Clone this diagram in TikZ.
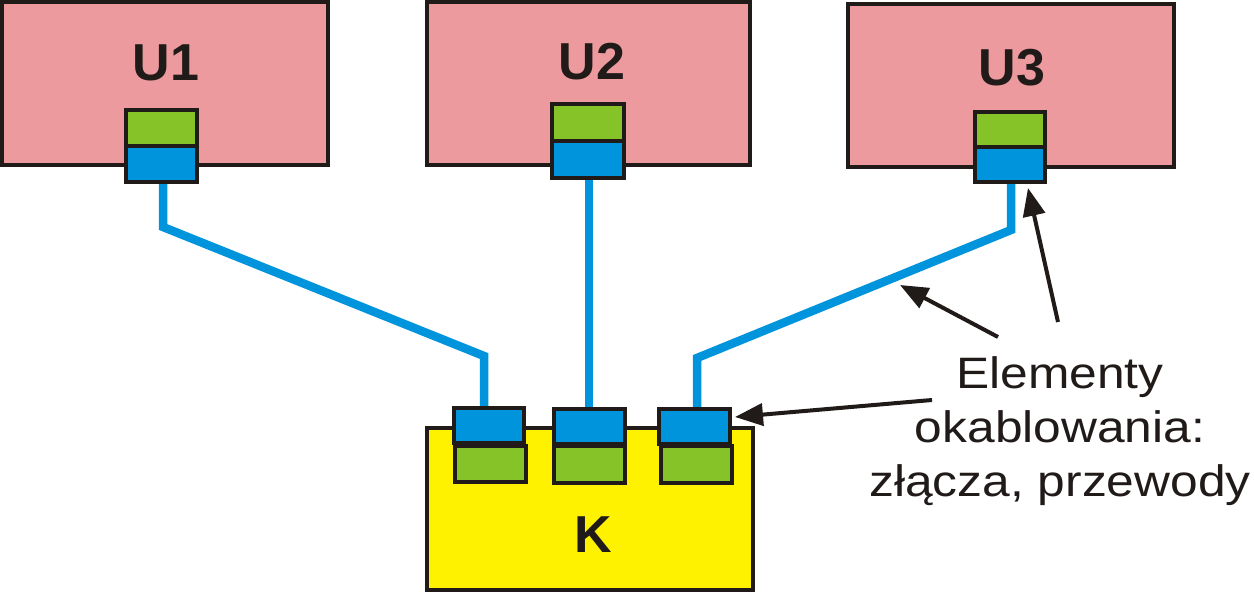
\documentclass[tikz,border=0pt]{standalone}
\usepackage{fontspec}
\setmainfont{Liberation Sans}
\newfontfamily\labelfont[FakeStretch=1.13]{Liberation Sans}
\usetikzlibrary{arrows.meta}
\definecolor{pinkbox}{RGB}{236,154,158}
\definecolor{greenc}{RGB}{133,195,41}
\definecolor{bluec}{RGB}{0,148,220}
\definecolor{yellowk}{RGB}{255,242,0}
\definecolor{edge}{RGB}{32,27,25}
\tikzset{
  unit/.style={draw=edge,line width=4pt,fill=pinkbox},
  hub/.style={draw=edge,line width=4pt,fill=yellowk},
  gplug/.style={draw=edge,line width=4pt,fill=greenc},
  bplug/.style={draw=edge,line width=4pt,fill=bluec},
  wire/.style={draw=bluec,line width=8.5pt,line join=miter},
  pointer/.style={draw=edge,line width=4pt,-{Triangle[length=28pt,width=22pt]}},
  title/.style={font=\fontsize{52}{60}\selectfont\bfseries,text=edge,inner sep=0pt,anchor=base},
}
\begin{document}
\begin{tikzpicture}[x=1pt,y=-1pt]
\useasboundingbox (0,0) rectangle (1254,593);
% boxes
\path[unit] (2,2) rectangle (328,165);
\path[unit] (427,2) rectangle (750,165);
\path[unit] (848,4) rectangle (1174,167);
\path[hub] (427,428) rectangle (753,590);
\node[title] (t1) at (166,81) {U1};
\node[title] (t2) at (592,80) {U2};
\node[title] (t3) at (1012,86) {U3};
\node[title] (tk) at (593,553) {K};
% plug anchor coordinates
\coordinate (p1) at (163,182);
\coordinate (p2) at (589,178);
\coordinate (p3) at (1011,182);
\coordinate (k1) at (484,408);
\coordinate (k2) at (589,409);
\coordinate (k3) at (697,409);
% wires
\draw[wire] (p1) -- (163,227) -- (484,356) -- (k1);
\draw[wire] (p2) -- (k2);
\draw[wire] (p3) -- (1011,230) -- (697,358) -- (k3);
% unit plugs
\path[gplug] (126,110) rectangle (197,146);
\path[bplug] (126,146) rectangle (197,182);
\path[gplug] (552,104) rectangle (624,141);
\path[bplug] (552,141) rectangle (624,178);
\path[gplug] (975,112) rectangle (1045,147);
\path[bplug] (975,147) rectangle (1045,182);
% hub plugs
\path[gplug] (455,446) rectangle (526,482);
\path[bplug] (454,408) rectangle (524,443);
\path[gplug] (554,446) rectangle (625,483);
\path[bplug] (554,409) rectangle (625,444);
\path[gplug] (661,446) rectangle (732,483);
\path[bplug] (659,409) rectangle (730,444);
% label
\node[anchor=north,align=center,inner sep=0pt,text=edge,
      font=\labelfont\fontsize{44}{54}\selectfont] (lbl) at (1060,356)
  {Elementy\\okablowania:\\złącza, przewody};
\coordinate (a1) at (998,337);
\coordinate (a2) at (1058,322);
\coordinate (a3) at (932,400);
\coordinate (h1) at (900,285);
\coordinate (h2) at (1028,188);
\coordinate (h3) at (735,417);
\draw[pointer] (a1) -- (h1);
\draw[pointer] (a2) -- (h2);
\draw[pointer] (a3) -- (h3);
\end{tikzpicture}
\end{document}
